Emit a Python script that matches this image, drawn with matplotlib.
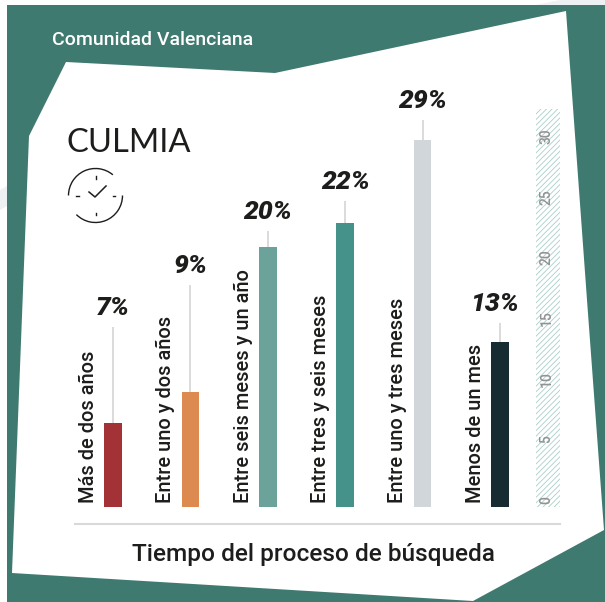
"""
Tiempo del proceso de busqueda - Comunidad Valenciana, CULMIA.
"""
import numpy as np
import matplotlib
matplotlib.use("Agg")
import matplotlib.pyplot as plt
from matplotlib.patches import Polygon, Rectangle, Arc

# data
categories = ["Más de dos años", "Entre uno y dos años", "Entre seis meses y un año",
              "Entre tres y seis meses", "Entre uno y tres meses", "Menos de un mes"]
bar_values = [6.6, 9.1, 20.5, 22.4, 29.0, 13.0]
stem_tops = [14.2, 17.5, 21.8, 24.2, 30.6, 14.5]
value_labels = ["7%", "9%", "20%", "22%", "29%", "13%"]
axis_ticks = [0, 5, 10, 15, 20, 25, 30]
bar_colors = ["#a33236", "#dd8a50", "#6ba29a", "#44928a", "#d1d6da", "#172b32"]

W, H = 605, 602
TEAL = "#3f7a70"
DARK = "#1d1d1b"
FONT = ["Roboto", "DejaVu Sans"]

plt.rcParams["font.family"] = FONT
plt.rcParams["hatch.linewidth"] = 0.6

fig = plt.figure(figsize=(W / 100, H / 100), dpi=100)

# background in pixel coordinates
bg = fig.add_axes([0, 0, 1, 1])
bg.set_xlim(0, W)
bg.set_ylim(H, 0)
bg.axis("off")
# faint marks showing round the edge of the scan
bg.add_patch(Polygon([(0, 190), (7, 186), (7, 206), (0, 210)], color="#eef1f3", lw=0))
bg.add_patch(Polygon([(535, 5), (560, 0), (605, 0), (605, 5)], color="#eef1f3", lw=0))
bg.add_patch(Rectangle((7, 5), W - 7, H - 5, color=TEAL, lw=0))
sheet = [(66, 62), (275, 73), (566, 11), (587, 300), (604, 530), (473, 601), (12, 573), (29, 136)]
bg.add_patch(Polygon(sheet, closed=True, color="white", lw=0))

bg.text(52, 40, "Comunidad Valenciana", color="white", fontsize=14, fontweight="medium",
        va="center", ha="left")
bg.text(66, 143, "CULMIA", color=DARK, fontsize=23.6, va="center", ha="left", family=["Lato", "DejaVu Sans"])
bg.text(313, 555, "Tiempo del proceso de búsqueda", color=DARK, fontsize=17.6, fontweight="medium",
        va="center", ha="center")

# clock icon
cx, cy, r = 95.5, 195.5, 27
bg.add_patch(Arc((cx, cy), 2 * r, 2 * r, theta1=180, theta2=310, color=DARK, lw=1))
bg.add_patch(Arc((cx, cy), 2 * r, 2 * r, theta1=0, theta2=135, color=DARK, lw=1))
bg.plot([89, 95, 106], [192, 197, 186], color=DARK, lw=1.1)
for dx, dy in [(0, -17), (0, 17), (-17, 0), (17, 0)]:
    bg.plot([cx + dx, cx + dx * 1.15], [cy + dy, cy + dy * 1.15], color=DARK, lw=1)

# baseline rule
bg.plot([75, 560], [524, 524], color="#d9d9d9", lw=1.5)

# hatched strip behind the axis numbers
bg.add_patch(Rectangle((536, 109), 24, 398, facecolor="white", edgecolor="#a9cfc8", hatch="//////", lw=0))

# chart axes: y scale 12.66 px per unit, x unit 77.4 px
px_per_unit = 12.66
x0_px, x_step = 113, 77.4
y_top = 32
ax = fig.add_axes([(x0_px - x_step * 0.5) / W, (H - 507) / H, x_step * 6 / W, y_top * px_per_unit / H])
ax.patch.set_alpha(0)
ax.set_xlim(-0.5, 5.5)
ax.set_ylim(0, y_top)
ax.axis("off")

x = np.arange(len(categories))
ax.vlines(x, 0, stem_tops, color="#d8d8d8", lw=1.3, zorder=1)
ax.bar(x, bar_values, width=0.225, color=bar_colors, zorder=2)
for i in x:
    ax.text(i - 0.32, 0.3, categories[i], rotation=90, ha="center", va="bottom", color=DARK,
            fontsize=14.4, fontweight="medium")
    shift = -0.07 if i == 5 else 0
    ax.text(i + shift, stem_tops[i] + 1.5, value_labels[i], ha="center", va="center", color=DARK,
            fontsize=19, fontweight="black", style="italic")

# axis numbers
for t in axis_ticks:
    ax.text(5.6, t * 0.958 + 0.55, str(t), rotation=90, ha="center", va="center", color="#929292",
            fontsize=10, fontweight="medium", clip_on=False)

fig.savefig("out.png", dpi=100)
